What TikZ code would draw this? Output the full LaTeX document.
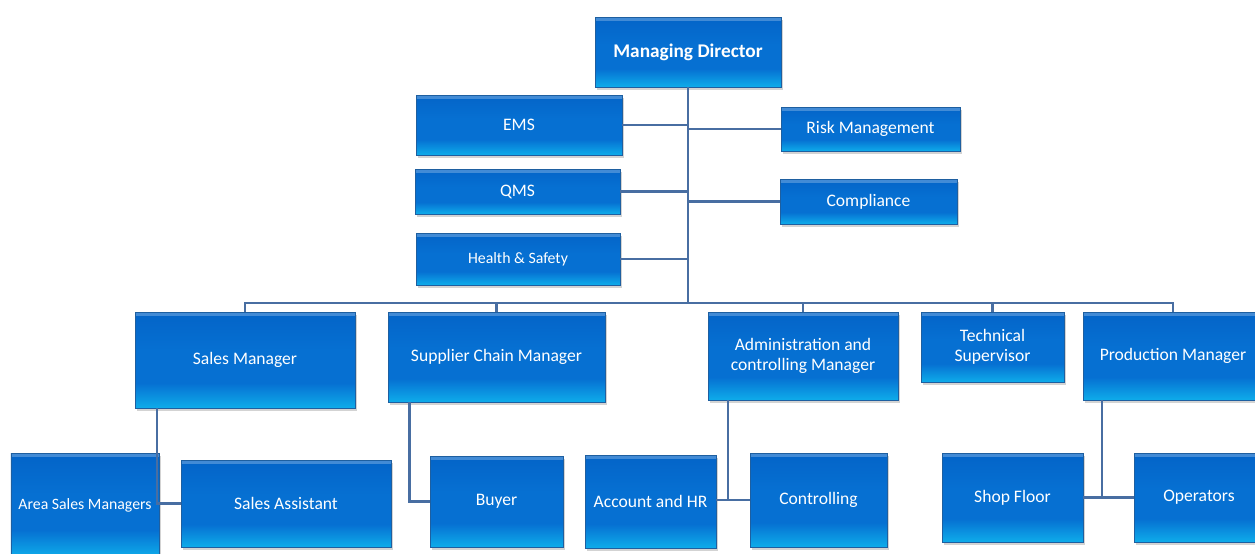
\documentclass[tikz,border=0pt]{standalone}
\usepackage{fontspec}
\setmainfont{Carlito}
\usetikzlibrary{positioning,shadows}

\definecolor{boxtop}{RGB}{4,100,200}
\definecolor{boxbody}{RGB}{6,112,210}
\definecolor{boxbottom}{RGB}{14,172,234}
\definecolor{boxedge}{RGB}{30,95,160}
\definecolor{linkblue}{RGB}{72,110,162}

\pgfdeclareverticalshading{orgfill}{100bp}{color(0bp)=(boxbottom);
  color(25bp)=(boxbottom); color(38bp)=(boxbody); color(55bp)=(boxbody);
  color(75bp)=(boxtop); color(100bp)=(boxtop)}

\begin{document}
\begin{tikzpicture}[
  orgbox/.style 2 args={draw=boxedge, line width=0.4pt, shading=orgfill,
    drop shadow={shadow xshift=1.2pt, shadow yshift=-1.5pt, opacity=0.35},
    path picture={\fill[white, opacity=0.25]
      (path picture bounding box.north west) rectangle
      ([yshift=-2pt]path picture bounding box.north east);},
    text=white, align=center, inner sep=0pt,
    font=\fontsize{10}{11.5}\selectfont,
    minimum width=#1cm, minimum height=#2cm},
  small/.style={font=\fontsize{9}{11}\selectfont},
  link/.style={draw=linkblue, line width=1.6pt}]

  \useasboundingbox (0,0) rectangle (25.1,-11.08);

  % top of the tree
  \node [orgbox={3.72}{1.4}, font=\bfseries\fontsize{11}{13}\selectfont]
        (md) at (13.76,-1.04) {Managing Director};

  \node [orgbox={4.12}{1.2}] (ems) at (10.38,-2.5) {EMS};
  \node [orgbox={4.1}{0.9}] (qms) at (10.35,-3.83) {QMS};
  \node [orgbox={4.08}{1.04}, small] (hs) at (10.36,-5.18) {Health \& Safety};

  \node [orgbox={3.58}{0.88}] (risk) at (17.41,-2.58) {Risk Management};
  \node [orgbox={3.54}{0.9}] (comp) at (17.37,-4.03) {Compliance};

  \coordinate (bus) at (13.76,-6.06);

  % managers
  \node [orgbox={4.4}{1.92}] (sales) at (4.9,-7.2) {Sales Manager};
  \node [orgbox={4.34}{1.8}] (supply) at (9.93,-7.14) {Supplier Chain Manager};
  \node [orgbox={3.8}{1.76}] (admin) at (16.06,-7.12)
        {Administration and\\controlling Manager};
  \node [orgbox={2.86}{1.4}] (tech) at (19.85,-6.94) {Technical\\Supervisor};
  \node [orgbox={3.6}{1.76}] (prod) at (23.46,-7.12) {Production Manager};

  % staff
  \node [orgbox={2.96}{2.08}, small] (area) at (1.7,-10.1) {Area Sales Managers};
  \node [orgbox={4.2}{1.74}] (assist) at (5.72,-10.07) {Sales Assistant};
  \node [orgbox={2.66}{1.82}] (buyer) at (9.93,-10.03) {Buyer};
  \node [orgbox={2.62}{1.86}] (acct) at (13.01,-10.03) {Account and HR};
  \node [orgbox={2.74}{1.88}] (ctrl) at (16.37,-10.0) {Controlling};
  \node [orgbox={2.82}{1.78}] (shop) at (20.25,-9.95) {Shop Floor};
  \node [orgbox={2.6}{1.78}] (oper) at (23.98,-9.95) {Operators};

  \draw [link] (md.south) -- (bus);
  \draw [link] (ems.east) -- (ems.east -| md.south);
  \draw [link] (qms.east) -- (qms.east -| md.south);
  \draw [link] (hs.east) -- (hs.east -| md.south);
  \draw [link] (risk.west) -- (risk.west -| md.south);
  \draw [link] (comp.west) -- (comp.west -| md.south);

  \draw [link] (sales.north) |- (prod.north |- bus) -- (prod.north);
  \draw [link] (supply.north) -- (supply.north |- bus);
  \draw [link] (admin.north) -- (admin.north |- bus);
  \draw [link] (tech.north) -- (tech.north |- bus);

  \draw [link] ([xshift=-1.76cm]sales.south) |- (assist.west);
  \draw [link] ([xshift=-1.74cm]supply.south) |- (buyer.west);
  \draw [link] ([xshift=-1.5cm]admin.south) |- (ctrl.west);
  \draw [link] (acct.east |- ctrl.west) -- (ctrl.west);
  \draw [link] ([xshift=-1.42cm]prod.south) |- (oper.west);
  \draw [link] (shop.east |- oper.west) -- (oper.west);

\end{tikzpicture}
\end{document}
